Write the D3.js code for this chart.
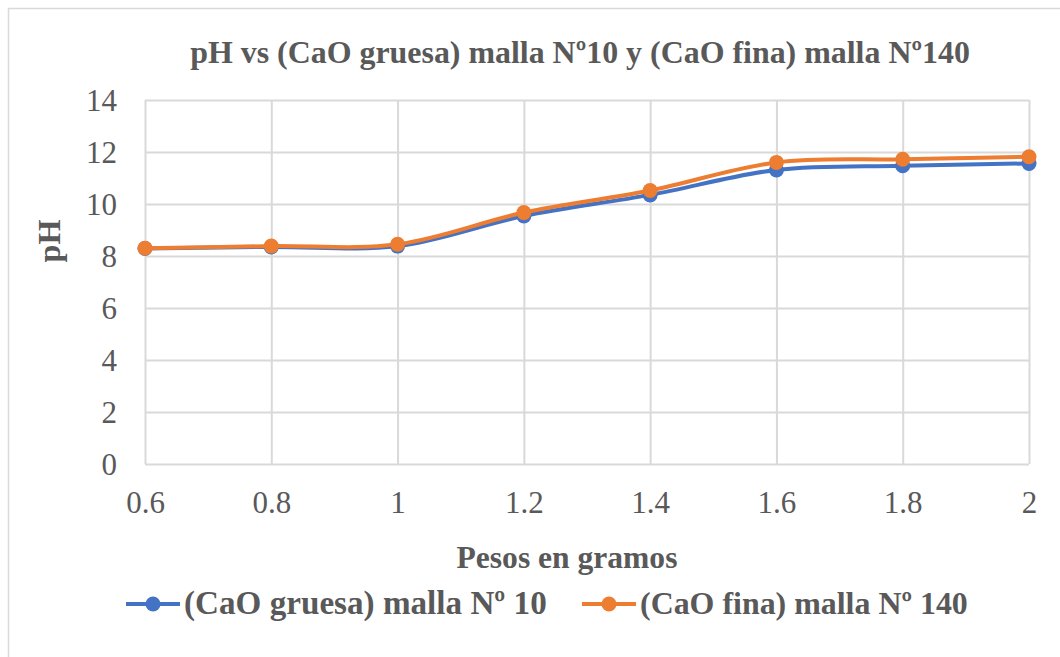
<!DOCTYPE html>
<html>
<head>
<meta charset="utf-8">
<script src="https://cdn.jsdelivr.net/npm/d3@7"></script>
<style>
  html, body { margin: 0; padding: 0; background: #fff; }
  svg text { font-family: "Liberation Serif", "Times New Roman", serif !important; fill: #595959; }
</style>
</head>
<body>
<script>
const pesos = [0.6, 0.8, 1.0, 1.2, 1.4, 1.6, 1.8, 2.0];
const phGruesa = [8.29, 8.35, 8.38, 9.54, 10.35, 11.31, 11.47, 11.56];
const phFina = [8.30, 8.38, 8.45, 9.67, 10.52, 11.60, 11.72, 11.82];
const xTicks = [0.6, 0.8, 1, 1.2, 1.4, 1.6, 1.8, 2];
const yTicks = [0, 2, 4, 6, 8, 10, 12, 14];
const seriesNames = ["(CaO gruesa) malla Nº 10", "(CaO fina) malla Nº 140"];
const seriesColors = ["#4472C4", "#ED7D31"];
const titleText = "pH vs (CaO gruesa) malla Nº10 y (CaO fina) malla Nº140";
const xTitle = "Pesos en gramos";
const yTitle = "pH";

const W = 1060, H = 657;
const m = { left: 145, right: 1029, top: 100, bottom: 464 };
const SERIF = "'Liberation Serif', 'Times New Roman', serif";

const svg = d3.select("body").append("svg").attr("width", W).attr("height", H)
  .attr("font-family", SERIF);
svg.append("rect").attr("width", W).attr("height", H).attr("fill", "#fff");
svg.append("rect").attr("x", 8.5).attr("y", 8.5).attr("width", 1100).attr("height", 700)
  .attr("fill", "none").attr("stroke", "#d9d9d9").attr("stroke-width", 1.5);

const x = d3.scaleLinear().domain([0.6, 2]).range([m.left, m.right]);
const y = d3.scaleLinear().domain([0, 14]).range([m.bottom, m.top]);

function fit(sel, target) {
  const w = sel.node().getComputedTextLength();
  const fs = parseFloat(sel.attr("font-size"));
  sel.attr("font-size", fs * target / w);
}

// gridlines
const gy = svg.append("g").attr("transform", `translate(${m.left},0)`)
  .call(d3.axisLeft(y).tickValues(yTicks).tickSize(-(m.right - m.left)).tickFormat(""));
const gx = svg.append("g").attr("transform", `translate(0,${m.bottom})`)
  .call(d3.axisBottom(x).tickValues(xTicks).tickSize(-(m.bottom - m.top)).tickFormat(""));
[gy, gx].forEach(g => {
  g.select(".domain").remove();
  g.selectAll("line").attr("stroke", "#d9d9d9").attr("stroke-width", 2);
});

// tick labels
const yl = svg.append("g").attr("transform", `translate(${m.left - 28},0)`)
  .call(d3.axisLeft(y).tickValues(yTicks).tickSize(0).tickPadding(0));
yl.attr("font-family", SERIF).attr("font-size", 31);
yl.select(".domain").remove();
yl.selectAll("text").attr("font-size", 31).attr("dy", "0.35em").attr("fill", "#595959");
const xl = svg.append("g").attr("transform", `translate(0,${m.bottom})`)
  .call(d3.axisBottom(x).tickValues(xTicks).tickSize(0).tickPadding(0).tickFormat(d3.format("")));
xl.attr("font-family", SERIF).attr("font-size", 31);
xl.select(".domain").remove();
xl.selectAll("text").attr("font-size", 31).attr("dy", 0).attr("y", 49).attr("fill", "#595959");

// lines
const data = [phGruesa, phFina];
const line = d3.line().x((d, i) => x(pesos[i])).y(d => y(d)).curve(d3.curveCatmullRom.alpha(0));
data.forEach((vals, s) => {
  const g = svg.append("g");
  g.append("path").attr("d", line(vals)).attr("fill", "none")
    .attr("stroke", seriesColors[s]).attr("stroke-width", 4).attr("stroke-linecap", "round");
  g.selectAll("circle").data(vals).join("circle")
    .attr("cx", (d, i) => x(pesos[i])).attr("cy", d => y(d)).attr("r", 7.5)
    .attr("fill", seriesColors[s]);
});

// title
const t = svg.append("text").attr("x", 580).attr("y", 63).attr("text-anchor", "middle")
  .attr("font-weight", "bold").attr("font-size", 26).text(titleText);
fit(t, 780);

const xt = svg.append("text").attr("x", 567).attr("y", 568).attr("text-anchor", "middle")
  .attr("font-weight", "bold").attr("font-size", 26).text(xTitle);
fit(xt, 221);

const yt = svg.append("text").attr("transform", "translate(60,241) rotate(-90)")
  .attr("text-anchor", "middle").attr("font-weight", "bold").attr("font-size", 32).text(yTitle);
fit(yt, 43);

// legend
const legX = [126, 582];
const legW = [363, 328];
seriesNames.forEach((name, s) => {
  const g = svg.append("g").attr("transform", `translate(${legX[s]},604)`);
  g.append("line").attr("x1", 0).attr("x2", 54).attr("y1", 0).attr("y2", 0)
    .attr("stroke", seriesColors[s]).attr("stroke-width", 4);
  g.append("circle").attr("cx", 27).attr("cy", 0).attr("r", 7.5).attr("fill", seriesColors[s]);
  const tx = g.append("text").attr("x", 58).attr("y", 10).attr("font-weight", "bold")
    .attr("font-size", 26).text(name);
  fit(tx, legW[s]);
});
</script>
</body>
</html>
